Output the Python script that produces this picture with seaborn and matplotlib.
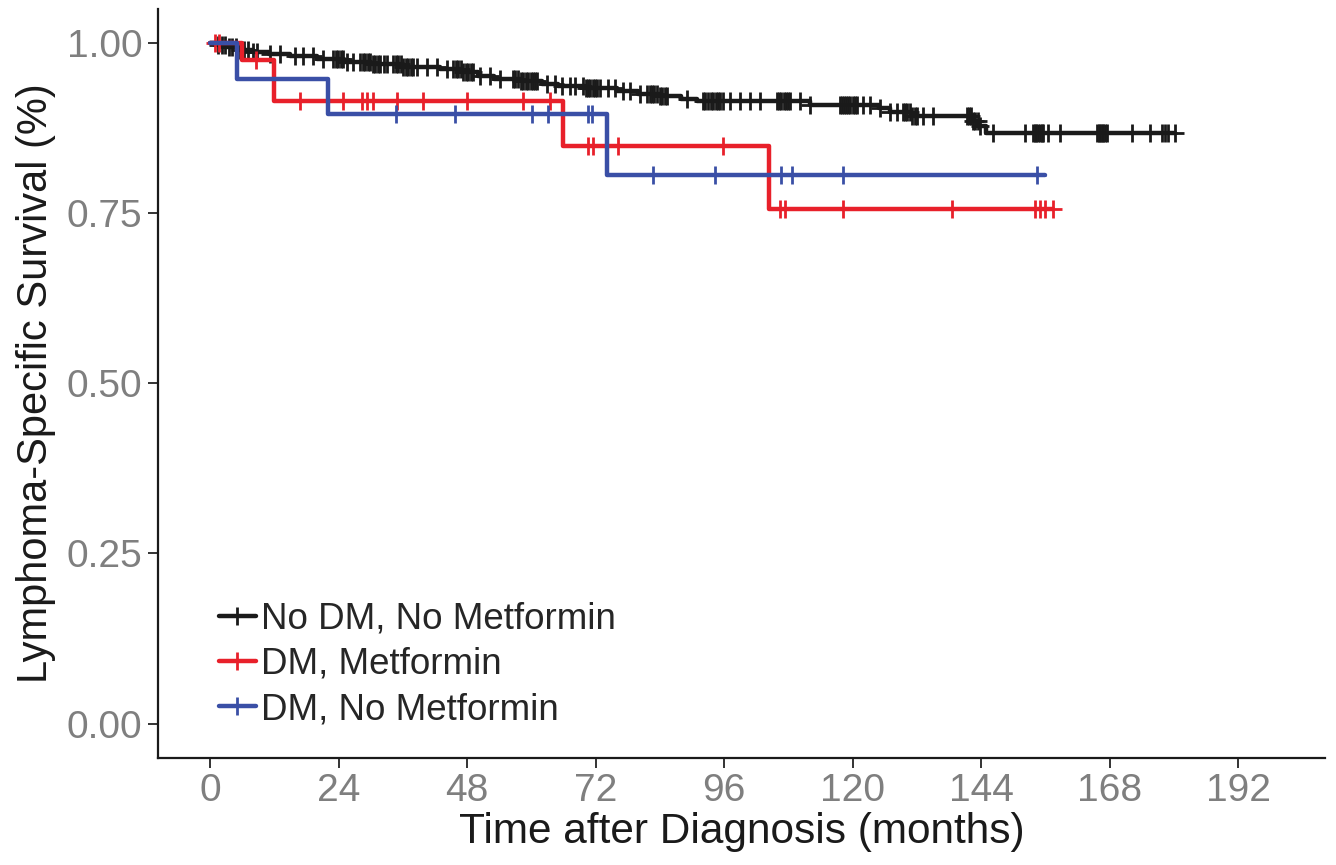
import matplotlib
matplotlib.use("Agg")
import matplotlib.pyplot as plt
from matplotlib.lines import Line2D
import seaborn as sns
import numpy as np

sns.set_style("white")
plt.rcParams['font.family'] = ['Liberation Sans', 'DejaVu Sans']

# Kaplan-Meier step data (time in months, survival probability)
groups = ['No DM, No Metformin', 'DM, Metformin', 'DM, No Metformin']

black_times = [0, 1.5, 3, 5, 8, 11, 15, 20, 25, 30, 36, 43, 47, 50, 53, 58, 62, 65,
               70, 76, 80, 84, 88, 91, 112, 125, 127, 131, 142.5, 143.5, 145]
black_surv = [1.0, 0.997, 0.994, 0.99, 0.986, 0.983, 0.980, 0.976, 0.972, 0.969, 0.965,
              0.961, 0.957, 0.951, 0.947, 0.944, 0.940, 0.936, 0.933, 0.929, 0.925,
              0.922, 0.918, 0.914, 0.909, 0.904, 0.898, 0.893, 0.885, 0.878, 0.868]
black_end = 180.2
black_censor = [1.5, 2.2, 2.8, 3.5, 4.1, 4.8, 5.6, 6.3, 7.1, 8.0, 8.8, 11.2, 13.1, 15.9,
                17.4, 19.2, 21.1, 23.0, 23.5, 23.9, 24.4, 24.8, 25.6, 26.7, 28.0, 28.5,
                29.0, 29.5, 29.9, 30.4, 30.8, 31.3, 31.8, 32.4, 33.1, 34.2, 34.7, 35.1,
                35.6, 36.0, 36.5, 37.0, 37.5, 37.9, 38.7, 40.5, 42.4, 44.3, 45.4, 45.9,
                46.3, 46.8, 47.3, 47.8, 48.2, 48.7, 49.1, 50.4, 52.3, 54.2, 56.6, 57.0,
                57.5, 58.0, 58.5, 59.0, 59.4, 59.9, 60.3, 60.7, 61.1, 62.9, 64.4, 65.7,
                67.2, 68.2, 69.7, 70.2, 70.6, 71.0, 71.5, 71.9, 72.3, 72.8, 74.3, 75.6,
                77.1, 78.4, 80.3, 81.6, 82.1, 82.6, 83.0, 83.5, 84.0, 84.4, 84.9, 85.4,
                89.1, 92.1, 92.5, 93.0, 93.5, 93.9, 94.4, 94.9, 95.3, 95.8, 97.1, 99.0,
                100.9, 102.7, 105.9, 106.3, 106.6, 107.1, 107.6, 108.0, 108.3, 110.2,
                112.1, 117.7, 118.1, 118.4, 118.8, 119.2, 119.6, 120.1, 120.5, 120.8,
                122.0, 123.3, 125.1, 127.0, 128.3, 129.4, 129.8, 130.2, 130.7, 131.1,
                131.6, 132.1, 133.2, 135.0, 141.4, 141.8, 142.1, 142.5, 142.9, 143.4,
                143.8, 146.2, 152.2, 153.7, 154.0, 154.3, 154.7, 155.0, 155.3, 155.6,
                156.5, 158.8, 165.7, 166.0, 166.2, 166.5, 166.8, 167.2, 167.5, 172.2,
                175.6, 177.8, 178.4, 178.9, 180.2]

red_times = [0, 6, 12, 66, 104.4]
red_surv = [1.0, 0.975, 0.915, 0.848, 0.756]
red_end = 157.5
red_censor = [1.0, 1.6, 8.5, 16.8, 24.8, 28.4, 29.3, 30.4, 34.9, 39.8, 48.0, 58.5, 63.5,
              70.6, 71.5, 76.2, 95.8, 106.5, 107.4, 118.2, 138.6, 154.1, 155.0, 156.0,
              157.5]

blue_times = [0, 5, 22, 74.2]
blue_surv = [1.0, 0.947, 0.895, 0.806]
blue_end = 156.0
blue_censor = [34.7, 45.8, 60.1, 63.1, 70.6, 71.4, 82.7, 94.3, 106.6, 108.7, 118.2,
               154.5]

colors = ['#1a1a1a', '#e8202a', '#3a4fa6']

x_ticks = [0, 24, 48, 72, 96, 120, 144, 168, 192]
y_ticks = [0.00, 0.25, 0.50, 0.75, 1.00]

fig, ax = plt.subplots(figsize=(13.36, 8.65), dpi=100)
fig.subplots_adjust(left=0.118, right=0.992, bottom=0.124, top=0.99)

series = [(black_times, black_surv, black_end, black_censor),
          (red_times, red_surv, red_end, red_censor),
          (blue_times, blue_surv, blue_end, blue_censor)]

LW = 3.2
for (times, surv, end, cens), col in zip(series, colors):
    xs = list(times) + [end]
    ys = list(surv) + [surv[-1]]
    sns.lineplot(x=xs, y=ys, ax=ax, color=col, linewidth=LW,
                 drawstyle='steps-post', estimator=None, sort=False)
    # censor marks sit on the curve value at that time
    idx = np.searchsorted(times, cens, side='right') - 1
    cy = np.array(surv)[idx]
    ax.plot(cens, cy, linestyle='none', marker='+', markersize=13,
            markeredgewidth=2.0, color=col)

ax.set_xlim(-9.8, 208.3)
ax.set_ylim(-0.05, 1.05)
ax.set_xticks(x_ticks)
ax.set_xticklabels([str(t) for t in x_ticks])
ax.set_yticks(y_ticks)
ax.set_yticklabels([f'{t:.2f}' for t in y_ticks])

ax.tick_params(axis='both', which='major', labelsize=28, labelcolor='#7f7f7f',
               direction='out', length=7, width=1.4, color='#333333', left=True,
               bottom=True, pad=4)
for side in ['top', 'right']:
    ax.spines[side].set_visible(False)
for side in ['left', 'bottom']:
    ax.spines[side].set_color('#1a1a1a')
    ax.spines[side].set_linewidth(1.6)

ax.set_xlabel('Time after Diagnosis (months)', fontsize=30.5, color='#1a1a1a', labelpad=2)
ax.set_ylabel('Lymphoma-Specific Survival (%)', fontsize=30, color='#1a1a1a', labelpad=8)

handles = [Line2D([0], [0], color=c, linewidth=LW, marker='+', markersize=13,
                  markeredgewidth=2.0) for c in colors]
ax.legend(handles, groups, loc='lower left', bbox_to_anchor=(0.04, 0.021),
          frameon=False, fontsize=26.5, handlelength=1.0, handletextpad=0.15,
          labelspacing=0.28, borderaxespad=0)

ax.grid(False)
fig.savefig('out.png', dpi=100)
